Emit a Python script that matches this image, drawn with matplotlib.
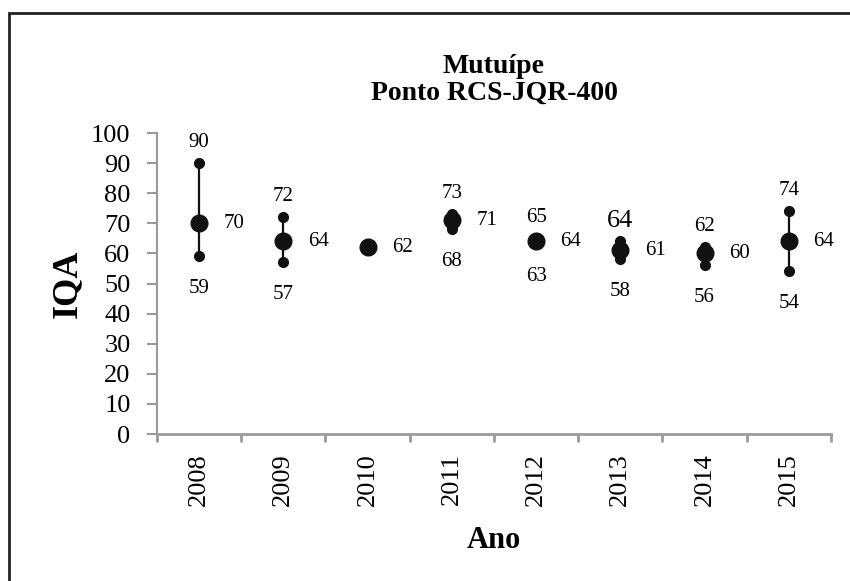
"""
IQA por ano — Mutuípe, ponto RCS-JQR-400.
Mínimo, média e máximo anuais com rótulos de valor.
"""
import numpy as np
import matplotlib
matplotlib.use('Agg')
import matplotlib.pyplot as plt
import matplotlib.patches as mp
from matplotlib.ticker import FixedLocator

plt.rcParams['font.family'] = ['Liberation Serif', 'DejaVu Serif']

anos = ['2008', '2009', '2010', '2011', '2012', '2013', '2014', '2015']
iqa_max = [90, 72, np.nan, 73, 65, 64, 62, 74]
iqa_media = [70, 64, 62, 71, 64, 61, 60, 64]
iqa_min = [59, 57, np.nan, 68, 63, 58, 56, 54]

x = np.arange(len(anos))
cinza = '#9a9a9a'

fig = plt.figure(figsize=(8.5, 5.81), dpi=100)
ax = fig.add_axes([0.1847, 0.253, 0.7929, 0.518])

# barra min-max
for xi, lo, hi in zip(x, iqa_min, iqa_max):
    if np.isnan(lo) or np.isnan(hi):
        continue
    ax.plot([xi, xi], [lo, hi], '-', color='#111', linewidth=1.6, zorder=2)

ax.plot(x, iqa_max, 'o', color='#111', markersize=7, zorder=3)
ax.plot(x, iqa_min, 'o', color='#111', markersize=7, zorder=3)
ax.plot(x, iqa_media, 'o', color='#111', markersize=12, zorder=4)

# rótulos
fs = 15
for i, (xi, hi, me, lo) in enumerate(zip(x, iqa_max, iqa_media, iqa_min)):
    if not np.isnan(hi):
        ax.annotate(f'{hi:.0f}', (xi, hi), textcoords='offset points', xytext=(0, 15),
                    ha='center', va='center', fontsize=19 if i == 5 else fs)
    if not np.isnan(lo):
        ax.annotate(f'{lo:.0f}', (xi, lo), textcoords='offset points', xytext=(0, -23),
                    ha='center', va='center', fontsize=fs)
    ax.annotate(f'{me:.0f}', (xi, me), textcoords='offset points', xytext=(25, 0),
                ha='center', va='center', fontsize=fs)

ax.set_xlim(-0.5, len(anos) - 0.5)
ax.set_ylim(0, 100)
ax.set_yticks(np.arange(0, 101, 10))
ax.set_xticks(x)
ax.set_xticklabels(anos, rotation=90)
ax.xaxis.set_minor_locator(FixedLocator(np.arange(-0.5, len(anos), 1.0)))
ax.tick_params(axis='x', which='major', length=0, pad=14, labelsize=19)
ax.tick_params(axis='x', which='minor', length=6, width=2, color=cinza)
ax.tick_params(axis='y', length=7, width=1.5, color=cinza, labelsize=19, pad=12)

for s in ['top', 'right']:
    ax.spines[s].set_visible(False)
for s in ['left', 'bottom']:
    ax.spines[s].set_color(cinza)
ax.spines['left'].set_linewidth(1.5)
ax.spines['bottom'].set_linewidth(2)

ax.set_ylabel('IQA', fontsize=26, fontweight='bold', labelpad=5)
ax.set_xlabel('Ano', fontsize=22, fontweight='bold', labelpad=14)
ax.set_title('Mutuípe\nPonto RCS-JQR-400', fontsize=20, fontweight='bold', pad=24,
             linespacing=1.1)

# moldura
fig.add_artist(mp.Rectangle((9 / 850, -0.1), 1.0, (581 - 13) / 581 + 0.1,
                            transform=fig.transFigure, fill=False,
                            edgecolor='#222', linewidth=2))

fig.savefig('out.png', dpi=100)
